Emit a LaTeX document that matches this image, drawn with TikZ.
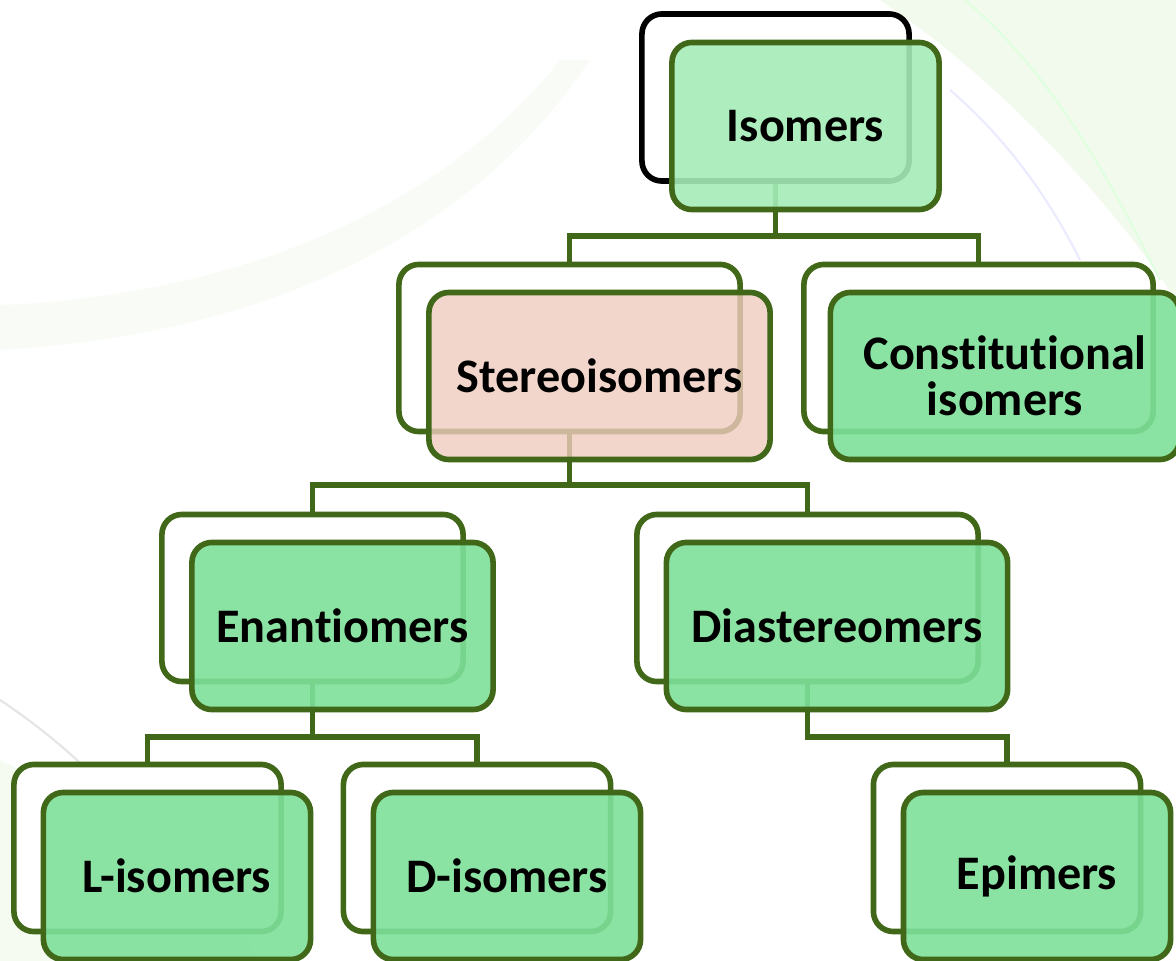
\documentclass[tikz,border=0pt]{standalone}
\usepackage{fontspec}
\setmainfont[Ligatures=NoCommon]{Carlito}
\usetikzlibrary{calc}
\definecolor{lineg}{RGB}{64,104,24}
\definecolor{fillg}{RGB}{126,224,153}
\definecolor{filltop}{RGB}{165,236,184}
\definecolor{fillpink}{RGB}{241,204,191}
\definecolor{bgg}{RGB}{236,248,228}
\tikzset{
  backbox/.style={draw=lineg, line width=1.6pt, fill=white, rounded corners=0.2cm,
    minimum width=2.67cm, minimum height=1.67cm, inner sep=0pt},
  frontbox/.style={draw=lineg, line width=1.6pt, fill=fillg, fill opacity=0.9, text opacity=1,
    rounded corners=0.2cm, minimum width=2.67cm, minimum height=1.67cm, inner sep=0pt,
    font=\fontsize{13.7}{14}\selectfont\bfseries, align=center},
  conn/.style={draw=lineg, line width=1.6pt},
}
\begin{document}
\begin{tikzpicture}[x=0.01cm,y=-0.01cm]
\useasboundingbox (0,0) rectangle (1176,961);
% faint background
\fill[white] (0,0) rectangle (1176,961);
\fill[bgg, opacity=0.7] (880,0) .. controls (1000,80) and (1110,200) .. (1176,300) -- (1176,0) -- cycle;
\fill[bgg, opacity=0.3] (0,305) .. controls (250,295) and (450,200) .. (560,60) -- (590,60) .. controls (470,240) and (260,335) .. (0,350) -- cycle;
\fill[bgg, opacity=0.5] (0,760) .. controls (120,820) and (220,900) .. (260,961) -- (0,961) -- cycle;
\draw[gray!20, line width=0.6pt] (0,700) .. controls (60,740) and (130,800) .. (170,880);
\draw[blue!8, line width=0.6pt] (950,90) .. controls (1020,150) and (1060,220) .. (1080,260);
\draw[green!12, line width=0.6pt] (965,0) .. controls (1060,80) and (1120,200) .. (1160,280);

% junctions
\coordinate (j1) at (775.5,236);
\coordinate (j2) at (569.5,485);
\coordinate (j3) at (312.5,737);
\coordinate (j4) at (807.5,737);

% back boxes
\node[backbox, draw=black] (isoB) at (775.5,97.5) {};
\node[backbox, minimum width=3.41cm] (stB) at (569.5,348) {};
\node[backbox, minimum width=3.49cm] (coB) at (978.5,348) {};
\node[backbox, minimum width=3.01cm] (enB) at (312.5,598) {};
\node[backbox, minimum width=3.41cm] (diB) at (807.5,598) {};
\node[backbox] (lB) at (147.5,848) {};
\node[backbox] (dB) at (477,848) {};
\node[backbox] (epB) at (1007,848) {};

% connectors
\draw[conn] (isoB.south) -- (j1);
\draw[conn] (stB.north) |- (j1) -| (coB.north);
\draw[conn] (stB.south) -- (j2);
\draw[conn] (enB.north) |- (j2) -| (diB.north);
\draw[conn] (enB.south) -- (j3);
\draw[conn] (lB.north) |- (j3) -| (dB.north);
\draw[conn] (diB.south) -- (j4) -| (epB.north);

% front boxes
\node[frontbox, fill=filltop] (isoF) at (805.5,126) {Isomers};
\node[frontbox, fill=fillpink, fill opacity=0.8, minimum width=3.41cm] (stF) at (599.5,376) {Stereoisomers};
\node[frontbox, minimum width=3.49cm] (coF) at (1005,376) {Constitutional\\[-1pt]isomers};
\node[frontbox, minimum width=3.01cm] (enF) at (342.5,626) {Enantiomers};
\node[frontbox, minimum width=3.41cm] (diF) at (837,626) {Diastereomers};
\node[frontbox] (lF) at (177,876) {L-isomers};
\node[frontbox] (dF) at (507,876) {D-isomers};
\node[frontbox] (epF) at (1037,876) {Epimers};
\end{tikzpicture}
\end{document}
